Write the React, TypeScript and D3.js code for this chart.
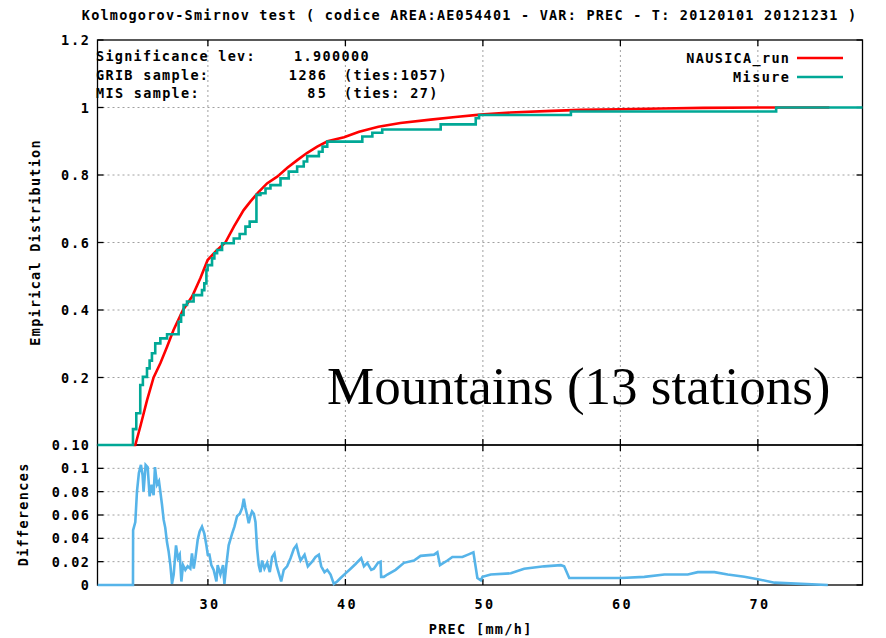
import React from "react";
import * as d3 from "d3";

// ---- data ----
// NAUSICA_run empirical CDF (model output)
const runX = [24.6, 24.72, 25.08, 25.57, 26.05, 26.54, 27.03, 27.5, 28.19, 28.85, 29.45, 29.98, 30.6, 31.27, 31.9, 32.6, 33.1, 33.7, 34.3, 35.04, 35.8, 36.5, 37.2, 37.95, 38.7, 39.9, 41.0, 42.4, 44.0, 46.2, 48.0, 49.8, 52.0, 55.0, 57.1, 60.0, 63.0, 66.0, 70.0, 75.2];
const runF = [0, 0, 0.054, 0.132, 0.2, 0.242, 0.291, 0.341, 0.4, 0.44, 0.494, 0.548, 0.575, 0.6, 0.648, 0.696, 0.722, 0.75, 0.775, 0.795, 0.822, 0.844, 0.865, 0.884, 0.9, 0.912, 0.928, 0.943, 0.954, 0.964, 0.972, 0.979, 0.985, 0.99, 0.993, 0.995, 0.997, 0.999, 1.0, 1.0];

// Misure (observations) empirical CDF, step function
const misX = [21.97, 24.55, 24.79, 25.08, 25.27, 25.57, 25.76, 25.93, 26.17, 26.54, 27.03, 27.87, 28.05, 28.23, 28.48, 28.96, 29.57, 29.74, 29.89, 29.98, 30.3, 30.47, 30.67, 31.03, 31.88, 32.31, 32.73, 33.04, 33.53, 33.82, 34.19, 34.55, 35.28, 35.88, 36.49, 36.97, 37.22, 38.07, 38.34, 38.68, 41.23, 41.96, 42.68, 46.93, 49.48, 49.72, 56.4, 71.33, 77.61];
const misF = [0, 0.047, 0.094, 0.178, 0.202, 0.227, 0.25, 0.272, 0.301, 0.316, 0.328, 0.365, 0.385, 0.415, 0.425, 0.444, 0.459, 0.479, 0.519, 0.533, 0.553, 0.568, 0.578, 0.598, 0.612, 0.625, 0.647, 0.662, 0.741, 0.746, 0.76, 0.77, 0.79, 0.81, 0.825, 0.84, 0.856, 0.869, 0.884, 0.899, 0.914, 0.925, 0.935, 0.95, 0.968, 0.978, 0.988, 1.0, 1.0];

// absolute differences between the two distributions
const diffX = [21.97, 24.55, 24.56, 24.72, 24.84, 24.98, 25.13, 25.25, 25.32, 25.47, 25.62, 25.76, 25.91, 26.05, 26.15, 26.3, 26.44, 26.54, 26.66, 26.78, 26.9, 27.02, 27.14, 27.27, 27.39, 27.51, 27.68, 27.82, 27.95, 28.07, 28.19, 28.36, 28.53, 28.72, 28.84, 28.97, 29.09, 29.26, 29.4, 29.57, 29.74, 29.89, 29.99, 30.11, 30.25, 30.42, 30.62, 30.71, 30.91, 31.1, 31.2, 31.34, 31.51, 31.76, 31.93, 32.12, 32.32, 32.49, 32.61, 32.73, 32.85, 32.97, 33.09, 33.21, 33.34, 33.46, 33.58, 33.7, 33.82, 33.94, 34.11, 34.31, 34.5, 34.67, 34.84, 34.99, 35.16, 35.33, 35.52, 35.76, 36.01, 36.25, 36.44, 36.61, 36.74, 37.03, 37.27, 37.58, 37.83, 38.07, 38.24, 38.48, 38.68, 38.92, 39.16, 39.4, 39.65, 40.01, 40.38, 40.74, 41.15, 41.35, 41.59, 41.88, 42.07, 42.37, 42.56, 42.6, 42.8, 43.05, 43.65, 44.26, 44.99, 45.47, 46.45, 46.69, 46.88, 47.42, 47.78, 48.51, 48.92, 49.31, 49.6, 49.85, 49.97, 50.57, 52.03, 53.0, 54.46, 55.67, 55.91, 56.28, 57.13, 60.04, 61.74, 63.2, 64.9, 65.63, 66.84, 67.81, 69.02, 70.0, 71.21, 73.15, 75.09];
const diffD = [0, 0, 0.047, 0.054, 0.08, 0.096, 0.103, 0.094, 0.08, 0.103, 0.101, 0.076, 0.086, 0.077, 0.101, 0.086, 0.089, 0.08, 0.069, 0.056, 0.049, 0.037, 0.029, 0.017, 0.001, 0.009, 0.034, 0.023, 0.026, 0.003, 0.017, 0.013, 0.016, 0.014, 0.027, 0.014, 0.023, 0.039, 0.046, 0.05, 0.044, 0.034, 0.026, 0.026, 0.017, 0.013, 0.003, 0.017, 0.009, 0.017, 0.001, 0.017, 0.034, 0.044, 0.05, 0.059, 0.061, 0.066, 0.074, 0.066, 0.06, 0.053, 0.059, 0.063, 0.061, 0.054, 0.031, 0.017, 0.011, 0.021, 0.014, 0.019, 0.011, 0.024, 0.027, 0.017, 0.01, 0.003, 0.013, 0.016, 0.023, 0.031, 0.034, 0.026, 0.021, 0.026, 0.016, 0.02, 0.024, 0.026, 0.016, 0.011, 0.013, 0.009, 0.001, 0.003, 0.006, 0.01, 0.014, 0.018, 0.023, 0.016, 0.019, 0.013, 0.014, 0.019, 0.02, 0.007, 0.007, 0.009, 0.013, 0.019, 0.021, 0.025, 0.026, 0.028, 0.017, 0.021, 0.024, 0.024, 0.026, 0.028, 0.006, 0.004, 0.007, 0.009, 0.01, 0.014, 0.016, 0.017, 0.016, 0.006, 0.006, 0.006, 0.007, 0.009, 0.009, 0.011, 0.011, 0.009, 0.007, 0.005, 0.002, 0.001, 0];

const xTicks = [30, 40, 50, 60, 70];
const topTicks = [0.2, 0.4, 0.6, 0.8, 1, 1.2];
const topTickLabels = ["0.2", "0.4", "0.6", "0.8", "1", "1.2"];
const botTicks = [0, 0.02, 0.04, 0.06, 0.08, 0.1, 0.12];
// the top tick of the lower panel shares its row with the "0" of the upper one
const botTickLabels = ["0", "0.02", "0.04", "0.06", "0.08", "0.1", "0.1"];

const title = "Kolmogorov-Smirnov test ( codice AREA:AE054401 - VAR: PREC - T: 20120101 20121231 )";
const seriesNames = ["NAUSICA_run", "Misure"];
const infoRows = [
  ["Significance lev:", "1.900000", ""],
  ["GRIB sample:", "1286", "(ties:1057)"],
  ["MIS sample:", "85", "(ties: 27)"],
];

// ---- layout ----
const W = 886, H = 638;
const L = 97.5, R = 862.5;
const T1 = 40, B1 = 445, B2 = 585;
const CW = 9.33;
const FS = 13.5;
const MONO = "'DejaVu Sans Mono', monospace";
const RED = "#ff0000";
const TEAL = "#00a896";
const BLUE = "#56b4e9";
const GRID = "#a0a0a0";

function Mono({ x, y, text, anchor = "start", transform }: any) {
  return (
    <text
      x={x}
      y={y}
      transform={transform}
      textAnchor={anchor}
      fontFamily={MONO}
      fontWeight="bold"
      fontSize={FS}
      fill="#000"
      textLength={text.length * CW}
      lengthAdjust="spacing"
      style={{ whiteSpace: "pre" }}
    >
      {text}
    </text>
  );
}

export default function App() {
  const x = d3.scaleLinear().domain([21.97, 77.61]).range([L, R]);
  const yTop = d3.scaleLinear().domain([0, 1.2]).range([B1, T1]);
  const yBot = d3.scaleLinear().domain([0, 0.12]).range([B2, B1]);

  const runPts = runX.map((v, i) => [v, runF[i]] as [number, number]);
  const misPts = misX.map((v, i) => [v, misF[i]] as [number, number]);
  const diffPts = diffX.map((v, i) => [v, diffD[i]] as [number, number]);

  const runLine = d3.line<[number, number]>().x((d) => x(d[0])).y((d) => yTop(d[1]));
  const misLine = d3
    .line<[number, number]>()
    .x((d) => x(d[0]))
    .y((d) => yTop(d[1]))
    .curve(d3.curveStepAfter);
  const diffLine = d3.line<[number, number]>().x((d) => x(d[0])).y((d) => yBot(d[1]));

  const tick = 6;
  const labelX = 89;

  return (
    <svg
      width={W}
      height={H}
      style={{ position: "absolute", left: 0, top: 0, background: "#fff" }}
    >
      <defs>
        <clipPath id="clipTop">
          <rect x={L - 2} y={T1} width={R - L + 4} height={B1 - T1 + 2} />
        </clipPath>
        <clipPath id="clipBot">
          <rect x={L} y={B1} width={R - L} height={B2 - B1 + 2} />
        </clipPath>
      </defs>

      <Mono x={469} y={20} text={title} anchor="middle" />

      {/* grid */}
      <g stroke={GRID} strokeWidth={1} strokeDasharray="2,3">
        {xTicks.map((t) => (
          <line key={"vt" + t} x1={x(t)} x2={x(t)} y1={T1} y2={B1} />
        ))}
        {topTicks.slice(0, 5).map((t) => (
          <line key={"ht" + t} x1={L} x2={R} y1={yTop(t)} y2={yTop(t)} />
        ))}
        {xTicks.map((t) => (
          <line key={"vb" + t} x1={x(t)} x2={x(t)} y1={B1} y2={B2} />
        ))}
        {botTicks.slice(1, 6).map((t) => (
          <line key={"hb" + t} x1={L} x2={R} y1={yBot(t)} y2={yBot(t)} />
        ))}
      </g>

      {/* frames */}
      <g fill="none" stroke="#000" strokeWidth={1.3}>
        <rect x={L} y={T1} width={R - L} height={B1 - T1} />
        <rect x={L} y={B1} width={R - L} height={B2 - B1} />
      </g>

      {/* ticks */}
      <g stroke="#000" strokeWidth={1.3}>
        {xTicks.map((t) => (
          <g key={"xt" + t}>
            <line x1={x(t)} x2={x(t)} y1={T1} y2={T1 + tick} />
            <line x1={x(t)} x2={x(t)} y1={B1} y2={B1 - tick} />
            <line x1={x(t)} x2={x(t)} y1={B1} y2={B1 + tick} />
            <line x1={x(t)} x2={x(t)} y1={B2} y2={B2 - tick} />
          </g>
        ))}
        {topTicks.map((t) => (
          <g key={"yt" + t}>
            <line x1={L} x2={L + tick} y1={yTop(t)} y2={yTop(t)} />
            <line x1={R} x2={R - tick} y1={yTop(t)} y2={yTop(t)} />
          </g>
        ))}
        {botTicks.map((t) => (
          <g key={"yb" + t}>
            <line x1={L} x2={L + tick} y1={yBot(t)} y2={yBot(t)} />
            <line x1={R} x2={R - tick} y1={yBot(t)} y2={yBot(t)} />
          </g>
        ))}
      </g>

      {/* tick labels */}
      {botTicks.map((t, i) =>
        i === botTicks.length - 1 ? (
          <Mono key={"lb" + t} x={labelX - CW} y={yBot(t) + 5} text={botTickLabels[i]} anchor="end" />
        ) : (
          <Mono key={"lb" + t} x={labelX} y={yBot(t) + 5} text={botTickLabels[i]} anchor="end" />
        )
      )}
      <Mono x={labelX} y={yTop(0) + 5} text="0" anchor="end" />
      {topTicks.map((t, i) => (
        <Mono key={"lt" + t} x={labelX} y={yTop(t) + 5} text={topTickLabels[i]} anchor="end" />
      ))}
      {xTicks.map((t) => (
        <Mono key={"lx" + t} x={x(t) + 1} y={609} text={String(t)} anchor="middle" />
      ))}

      {/* axis titles */}
      <Mono x={480} y={634} text="PREC [mm/h]" anchor="middle" />
      <Mono x={0} y={0} text="Empirical Distribution" anchor="middle" transform="translate(40,243) rotate(-90)" />
      <Mono x={0} y={0} text="Differences" anchor="middle" transform="translate(28,515) rotate(-90)" />

      {/* info block */}
      {infoRows.map((r, i) => {
        const yy = 61 + i * 18.6;
        return (
          <g key={"info" + i}>
            <Mono x={96} y={yy} text={r[0]} />
            {i === 0 ? (
              <Mono x={294} y={yy} text={r[1]} />
            ) : (
              <Mono x={326} y={yy} text={r[1]} anchor="end" />
            )}
            {r[2] && <Mono x={344} y={yy} text={r[2]} />}
          </g>
        );
      })}

      {/* label */}
      <text
        x={327}
        y={404}
        fontFamily="'Liberation Serif', 'Times New Roman', serif"
        fontSize={53}
        fill="#000"
      >
        Mountains (13 stations)
      </text>

      {/* curves */}
      <g clipPath="url(#clipTop)" fill="none" strokeWidth={2.6} strokeLinejoin="miter">
        <path d={runLine(runPts) || ""} stroke={RED} />
        <path d={misLine(misPts) || ""} stroke={TEAL} />
      </g>
      <g clipPath="url(#clipBot)" fill="none">
        <path d={diffLine(diffPts) || ""} stroke={BLUE} strokeWidth={2.6} />
      </g>

      {/* legend */}
      <Mono x={789} y={62.5} text={seriesNames[0]} anchor="end" />
      <Mono x={789} y={81.5} text={seriesNames[1]} anchor="end" />
      <line x1={797} x2={843} y1={58} y2={58} stroke={RED} strokeWidth={2.6} />
      <line x1={797} x2={843} y1={77} y2={77} stroke={TEAL} strokeWidth={2.6} />
    </svg>
  );
}
